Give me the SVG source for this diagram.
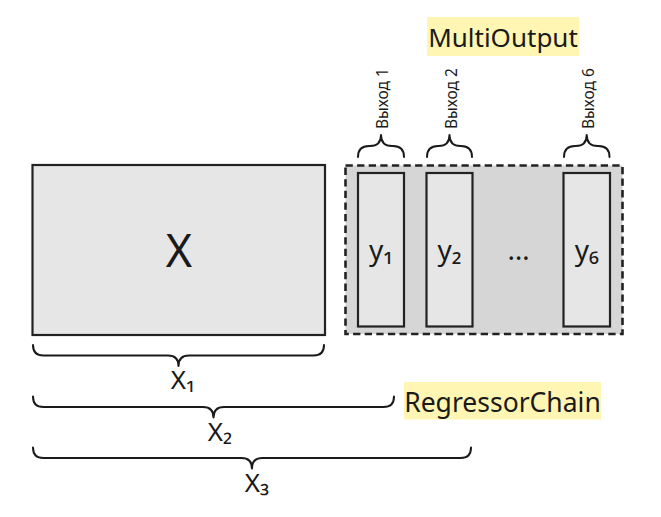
<svg xmlns="http://www.w3.org/2000/svg" width="661" height="517" viewBox="0 0 661 517">
<style>
text{font-family:"Noto Sans","Open Sans","DejaVu Sans",sans-serif;fill:#1a1a1a}
.box{fill:#e6e6e6;stroke:#222;stroke-width:2.2}
.dash{fill:#d6d6d6;stroke:#222;stroke-width:2.6;stroke-dasharray:7.3 4.3}
.brace{fill:none;stroke:#1a1a1a;stroke-width:2;stroke-linecap:round;stroke-linejoin:round}
.hl{fill:#fff6b4}
.lbl{font-size:26px;text-anchor:middle}
.yl{font-size:28px;text-anchor:middle}
.vt{font-size:15.5px}
</style>
<rect width="661" height="517" fill="#ffffff"/>
<g id="multioutput-label">
<rect class="hl" x="427" y="17" width="152" height="39"/>
<text x="503" y="46.5" style="font-size:26px" text-anchor="middle">MultiOutput</text>
</g>
<g id="regressorchain-label">
<rect class="hl" x="404" y="382" width="197" height="37.5"/>
<text x="502.5" y="411.5" style="font-size:26.5px" text-anchor="middle">RegressorChain</text>
</g>
<g id="X">
<rect class="box" x="32.5" y="165" width="292.5" height="170"/>
<text x="179" y="267" style="font-size:45px" text-anchor="middle">X</text>
</g>
<g id="outputs">
<rect class="dash" x="345.5" y="165.5" width="277" height="168.5"/>
</g>
<g id="y1">
<rect class="box" x="358" y="173" width="46" height="153.5"/>
<text class="yl" x="381" y="260">y₁</text>
</g>
<g id="y2">
<rect class="box" x="426.5" y="173" width="46" height="153.5"/>
<text class="yl" x="449.5" y="260">y₂</text>
</g>
<g id="ellipsis">
<text class="yl" x="518.5" y="260">…</text>
</g>
<g id="y6">
<rect class="box" x="563.5" y="173" width="46.5" height="153.5"/>
<text class="yl" x="586.7" y="260">y₆</text>
</g>
<g id="connectors">
<path class="brace" d="M358 157 q0 -11 11 -11 H370 q11 0 11 -11 q0 11 11 11 H393 q11 0 11 11"/>
<path class="brace" d="M427 157 q0 -11 11 -11 H438.5 q11 0 11 -11 q0 11 11 11 H461 q11 0 11 11"/>
<path class="brace" d="M564 157 q0 -11 11 -11 H575.7 q11 0 11 -11 q0 11 11 11 H598.5 q11 0 11 11"/>
<path class="brace" d="M33 345 q0 10.5 10.5 10.5 H168 q10.5 0 10.5 10.5 q0 -10.5 10.5 -10.5 H313.5 q10.5 0 10.5 -10.5"/>
<path class="brace" d="M33 396.5 q0 10.5 10.5 10.5 H203 q10.5 0 10.5 10.5 q0 -10.5 10.5 -10.5 H383.5 q10.5 0 10.5 -10.5"/>
<path class="brace" d="M33 447.5 q0 10.5 10.5 10.5 H241.5 q10.5 0 10.5 10.5 q0 -10.5 10.5 -10.5 H460.5 q10.5 0 10.5 -10.5"/>
</g>
<g id="output-labels">
<text class="vt" transform="translate(388,129) rotate(-90)">Выход 1</text>
<text class="vt" transform="translate(456.5,129) rotate(-90)">Выход 2</text>
<text class="vt" transform="translate(593.7,129) rotate(-90)">Выход 6</text>
</g>
<g id="x-labels">
<text class="lbl" x="183" y="389">X₁</text>
<text class="lbl" x="220" y="441">X₂</text>
<text class="lbl" x="257" y="492">X₃</text>
</g>
</svg>
